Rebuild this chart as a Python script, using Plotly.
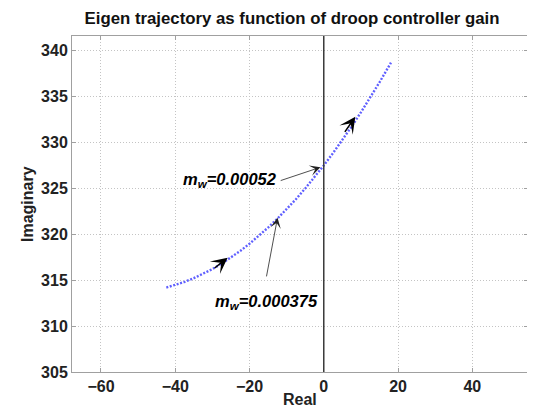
import plotly.graph_objects as go

# Eigenvalue trajectory
real_part = [-42.4, -40.0, -37.5, -35.0, -32.5, -30.0, -27.5, -25.0, -22.5, -20.0,
             -17.5, -15.0, -12.5, -10.0, -7.5, -5.0, -2.5, 0.0, 2.5, 5.0,
             7.5, 10.0, 12.5, 15.0, 18.1]
imag_part = [314.20, 314.47, 314.81, 315.22, 315.69, 316.21, 316.81, 317.46, 318.18, 318.97,
             319.82, 320.73, 321.70, 322.72, 323.82, 324.99, 326.21, 327.50, 328.85, 330.27,
             331.74, 333.28, 334.88, 336.55, 338.70]

x_ticks = [-60, -40, -20, 0, 20, 40]
y_ticks = [305, 310, 315, 320, 325, 330, 335, 340]

# annotations: label text, label position, arrow tail, arrow tip
label_texts = ["<i>m<sub>w</sub>=0.00052</i>", "<i>m<sub>w</sub>=0.000375</i>"]
label_pos = [(-12.3, 325.9), (-29.8, 313.9)]
arrow_tail = [(-12.0, 325.8), (-15.5, 315.25)]
arrow_tip = [(-0.9, 327.3), (-12.45, 321.8)]

# direction arrows along the trajectory
dir_tail = [(-29.8, 316.2), (5.4, 331.0)]
dir_tip = [(-25.9, 317.45), (8.5, 332.8)]

FONT = "Liberation Sans"

# page body has an 8px margin, so the figure is sized to fit the window
OFF = 8
FIG_W, FIG_H = 535 - OFF, 408 - OFF
M_L, M_R, M_T, M_B = 72 - OFF, 7, 36 - OFF, 36
plot_w = FIG_W - M_L - M_R
plot_h = FIG_H - M_T - M_B

fig = go.Figure()
fig.add_trace(go.Scatter(
    x=real_part, y=imag_part, mode="lines",
    line=dict(color="rgb(95,95,255)", width=2.4, dash="2px,1.6px"),
    showlegend=False, hoverinfo="skip"))

fig.add_shape(type="line", xref="x", yref="paper", x0=0, x1=0, y0=0, y1=1,
              line=dict(color="#3a3a3a", width=1.5))

for (tx, ty), (hx, hy) in zip(arrow_tail, arrow_tip):
    fig.add_annotation(x=hx, y=hy, ax=tx, ay=ty, xref="x", yref="y", axref="x", ayref="y",
                       text="", showarrow=True, arrowhead=3, arrowwidth=0.8, arrowsize=2.2,
                       arrowcolor="#222222", standoff=0)

for (tx, ty), (hx, hy) in zip(dir_tail, dir_tip):
    fig.add_annotation(x=hx, y=hy, ax=tx, ay=ty, xref="x", yref="y", axref="x", ayref="y",
                       text="", showarrow=True, arrowhead=3, arrowwidth=1.5, arrowsize=1.8,
                       arrowcolor="black", standoff=0)

fig.add_annotation(x=label_pos[0][0], y=label_pos[0][1], xref="x", yref="y",
                   text=label_texts[0], showarrow=False, xanchor="right", yanchor="middle",
                   font=dict(family=FONT, size=16.5, color="black", weight="bold"))
fig.add_annotation(x=label_pos[1][0], y=label_pos[1][1], xref="x", yref="y",
                   text=label_texts[1], showarrow=False, xanchor="left", yanchor="top",
                   font=dict(family=FONT, size=16.5, color="black", weight="bold"))

# axis titles
fig.add_annotation(x=(300 - 72) / plot_w, y=-(399 - 372) / plot_h, xref="paper", yref="paper",
                   text="<b>Real</b>", showarrow=False, xanchor="center", yanchor="middle",
                   font=dict(family=FONT, size=16, color="#222222"))
fig.add_annotation(x=-(72 - 27) / plot_w, y=0.5, xref="paper", yref="paper",
                   text="<b>Imaginary</b>", showarrow=False, xanchor="center", yanchor="middle",
                   textangle=-90,
                   font=dict(family=FONT, size=16, color="#222222"))

axis_common = dict(
    showgrid=True, gridcolor="#c4c4c4", griddash="1px,2px", gridwidth=1,
    showline=True, linecolor="#a0a0a0", linewidth=1, mirror="ticks",
    ticks="inside", ticklen=4, tickcolor="#a0a0a0",
    zeroline=False, automargin=False,
    tickfont=dict(family=FONT, size=16, color="#222222", weight="bold"),
)

fig.update_layout(
    width=FIG_W, height=FIG_H,
    margin=dict(l=M_L, r=M_R, t=M_T, b=M_B),
    paper_bgcolor="white", plot_bgcolor="white",
    title=dict(text="<b>Eigen trajectory as function of droop controller gain</b>",
               x=(292 - OFF) / FIG_W, xref="container", xanchor="center",
               y=1 - (18 - OFF) / FIG_H, yref="container", yanchor="middle",
               font=dict(family=FONT, size=16.8, color="#111111")),
    xaxis=dict(range=[-67.8, 55], tickvals=x_ticks, **axis_common),
    yaxis=dict(range=[305, 341.6], tickvals=y_ticks, **axis_common),
)

fig.write_html("out.html")
